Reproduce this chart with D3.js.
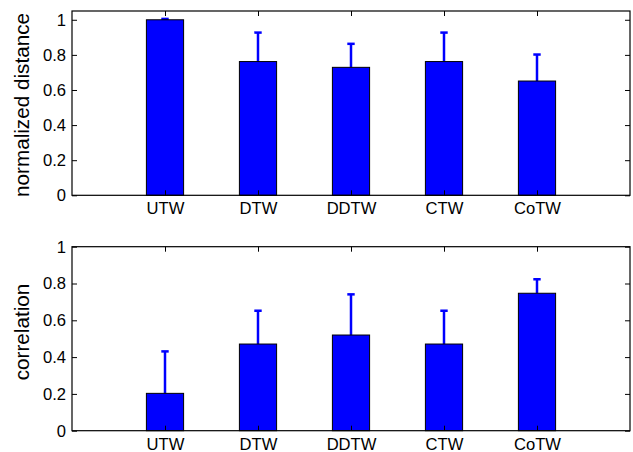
<!DOCTYPE html>
<html>
<head>
<meta charset="UTF-8"/>
<style>
  body { margin: 0; background: #fff; }
  text { font-family: "Liberation Sans", Arial, sans-serif; fill: #000; }
</style>
</head>
<body>
<script src="https://cdn.jsdelivr.net/npm/d3@7"></script>
<script>
// values
var methods = ["UTW", "DTW", "DDTW", "CTW", "CoTW"];
var distMean = [1.0, 0.762, 0.729, 0.762, 0.651];
var distErr  = [0.005, 0.165, 0.134, 0.165, 0.151];
var corrMean = [0.203, 0.471, 0.520, 0.471, 0.747];
var corrErr  = [0.228, 0.181, 0.221, 0.181, 0.076];
var yTicks = [0, 0.2, 0.4, 0.6, 0.8, 1];

var W = 633, H = 452;
var left = 72, right = 630;

var svg = d3.select("body").append("svg")
    .attr("width", W)
    .attr("height", H);

// categories sit at 1..5 on a 0..6 axis, like matlab's bar()
var x = d3.scaleLinear()
    .domain([0, methods.length + 1])
    .range([left, right]);
var barW = x(0.4) - x(0);

var panel = function(opts){
  var y = d3.scaleLinear()
      .domain([0, opts.ymax])
      .range([opts.bottom, opts.top]);

  var g = svg.append("g");
  var rows = opts.mean.map(function(m, i){ return {name: methods[i], pos: i + 1, m: m, e: opts.err[i]}; });

  // error bars (upper half only shows)
  var eb = g.selectAll("g.err").data(rows).enter().append("g").attr("class", "err");
  eb.append("line")
    .attr("x1", function(d){ return x(d.pos); })
    .attr("x2", function(d){ return x(d.pos); })
    .attr("y1", function(d){ return y(d.m); })
    .attr("y2", function(d){ return y(d.m + d.e); })
    .attr("stroke", "#0000ff")
    .attr("stroke-width", 2.5);
  eb.append("line")
    .attr("x1", function(d){ return x(d.pos) - 3.7; })
    .attr("x2", function(d){ return x(d.pos) + 3.7; })
    .attr("y1", function(d){ return y(d.m + d.e); })
    .attr("y2", function(d){ return y(d.m + d.e); })
    .attr("stroke", "#0000ff")
    .attr("stroke-width", 2.5);

  g.selectAll("rect.bar").data(rows).enter().append("rect")
    .attr("class", "bar")
    .attr("x", function(d){ return x(d.pos) - barW / 2; })
    .attr("width", barW)
    .attr("y", function(d){ return y(d.m); })
    .attr("height", function(d){ return y(0) - y(d.m); })
    .attr("fill", "#0000ff")
    .attr("stroke", "#000")
    .attr("stroke-width", 1);

  var fmt = d3.format("~g");
  var xAx = d3.axisBottom(x).tickValues(d3.range(1, methods.length + 1))
      .tickFormat(function(d){ return methods[d - 1]; })
      .tickSizeInner(-5).tickSizeOuter(0).tickPadding(7.2);
  var xTop = d3.axisTop(x).tickValues(d3.range(1, methods.length + 1))
      .tickFormat("").tickSizeInner(-5).tickSizeOuter(0);
  var yAx = d3.axisLeft(y).tickValues(yTicks).tickFormat(fmt)
      .tickSizeInner(-5).tickSizeOuter(0).tickPadding(6);
  var yRight = d3.axisRight(y).tickValues(yTicks).tickFormat("")
      .tickSizeInner(-5).tickSizeOuter(0);

  var axes = [
    g.append("g").attr("transform", "translate(0," + opts.bottom + ")").call(xAx),
    g.append("g").attr("transform", "translate(0," + opts.top + ")").call(xTop),
    g.append("g").attr("transform", "translate(" + left + ",0)").call(yAx),
    g.append("g").attr("transform", "translate(" + right + ",0)").call(yRight)
  ];
  axes.forEach(function(a){
    a.select(".domain").remove();
    a.selectAll("line").attr("stroke", "#000");
    a.selectAll("text").attr("font-size", 16.6).attr("fill", "#000")
      .style("font-family", "'Liberation Sans', Arial, sans-serif");
  });

  g.append("rect")
    .attr("x", left).attr("y", opts.top)
    .attr("width", right - left).attr("height", opts.bottom - opts.top)
    .attr("fill", "none")
    .attr("stroke", "#000")
    .attr("stroke-width", 1.2);

  g.append("text")
    .attr("transform", "translate(29," + opts.labelY + ") rotate(-90)")
    .attr("text-anchor", "middle")
    .attr("font-size", 20.7)
    .text(opts.label);
};

panel({top: 11, bottom: 195.3, ymax: 1.05, mean: distMean, err: distErr, label: "normalized distance", labelY: 105});
panel({top: 246.7, bottom: 430.7, ymax: 1, mean: corrMean, err: corrErr, label: "correlation", labelY: 332});
</script>
</body>
</html>
